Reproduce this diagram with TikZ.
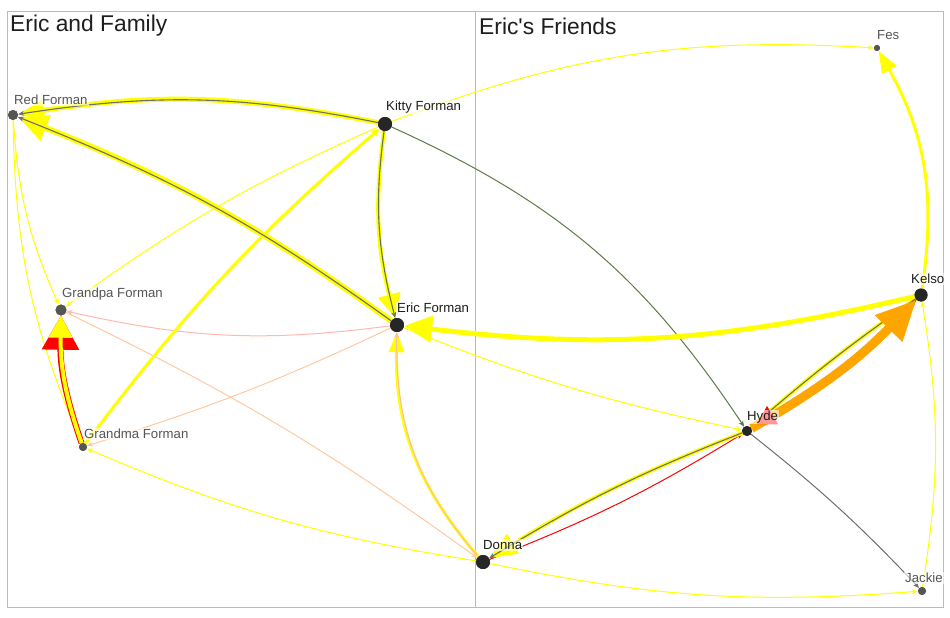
\documentclass[tikz,border=0pt]{standalone}
\usepackage{fontspec}
\setmainfont{Liberation Sans}
\newfontfamily\ttlfont{Liberation Sans}
\usetikzlibrary{arrows.meta}
\definecolor{yel}{HTML}{FFFF00}
\definecolor{gry}{HTML}{6E6E6E}
\definecolor{olv}{HTML}{5E7A45}
\definecolor{pnk}{HTML}{FFB8B0}
\definecolor{pch}{HTML}{FFC8A0}
\definecolor{org}{HTML}{FFA500}
\definecolor{frm}{HTML}{BBBBBB}
\definecolor{dotd}{HTML}{262626}
\definecolor{dotg}{HTML}{555555}
\definecolor{txd}{HTML}{1E1E1E}
\definecolor{txg}{HTML}{555555}
\begin{document}
\begin{tikzpicture}[x=1pt,y=-1pt,
  dot/.style={circle,inner sep=0pt,draw=none},
  labd/.style={anchor=west,font=\fontsize{13.2}{15}\selectfont,inner sep=1pt,fill=white,fill opacity=0.6,text opacity=1,text=txd},
  labg/.style={labd,text=txg},
  ttl/.style={anchor=west,font=\ttlfont\fontsize{22.8}{26}\selectfont,text=txd,inner sep=0pt},
  thinyel/.style={draw=yel,line width=1pt,-{Stealth[length=6pt,width=5pt]}},
  thinc/.style={line width=1pt,-{Stealth[length=6pt,width=5pt]}},
  fat/.style={draw=yel,line width=#1},
  ov/.style={draw=gry,line width=1.1pt,-{Stealth[length=6pt,width=5pt]}}]
\useasboundingbox (0,0) rectangle (950,618);
% frames
\draw[frm,line width=0.8pt] (7.5,11.5) rectangle (943.5,607.5);
\draw[frm,line width=0.8pt] (475,11.5) -- (475,607.5);
\node[ttl] (t1) at (10,26) {Eric and Family};
\node[ttl] (t2) at (479,26) {Eric's Friends};
% nodes
\node[dot,minimum size=10pt,fill=dotg] (red) at (13,115) {};
\node[dot,minimum size=14pt,fill=dotd] (kitty) at (385,124) {};
\node[dot,minimum size=14pt,fill=dotd] (eric) at (397,325) {};
\node[dot,minimum size=11pt,fill=dotg] (gpa) at (61,310) {};
\node[dot,minimum size=8pt,fill=dotg] (gma) at (83,447) {};
\node[dot,minimum size=14pt,fill=dotd] (donna) at (483,562) {};
\node[dot,minimum size=10pt,fill=dotd] (hyde) at (747,431) {};
\node[dot,minimum size=13pt,fill=dotd] (kelso) at (921,295) {};
\node[dot,minimum size=6pt,fill=dotg] (fes) at (877,48) {};
\node[dot,minimum size=8pt,fill=dotg] (jackie) at (922,591) {};
% thin edges
\draw[thinyel] (kitty) to[bend left=12] (fes);
\draw[thinyel] (kitty) to[bend right=6] (gpa);
\draw[thinyel] (red) to[bend right=10] (gpa);
\draw[thinyel] (red) to[bend right=11] (gma);
\draw[thinc,draw=pnk] (eric) to[bend left=10] (gpa);
\draw[thinc,draw=pch] (eric) to[bend left=4] (gma);
\draw[thinc,draw=pch] (gpa) to[bend left=5] (donna);
\draw[thinyel] (donna) to[bend left=7] (gma);
\draw[thinc,draw=olv] (kitty) to[bend left=16] (hyde);
\draw[thinc,draw=gry] (hyde) to[bend left=4] (jackie);
\draw[thinyel] (eric) to[bend right=5] (hyde);
\draw[thinyel] (donna) to[bend right=8] (jackie);
\draw[thinyel] (jackie) to[bend right=9] (kelso);
% thick edges
\draw[fat=3pt,-{Triangle[length=8pt,width=7pt]}] (gma) to[bend left=6] (kitty);
\draw[fat=5pt,-{Triangle[length=26pt,width=20pt]}] (kitty) to[bend right=10] (red);
\draw[ov] (kitty) to[bend right=10] (red);
\draw[fat=6pt,-{Triangle[length=30pt,width=26pt]}] (eric) to[bend right=7] (red);
\draw[ov] (eric) to[bend right=7] (red);
\draw[fat=4pt,-{Triangle[length=24pt,width=22pt]}] (kitty) to[bend right=11] (eric);
\draw[ov,draw=olv!70!gry] (kitty) to[bend right=11] (eric);
\draw[fat=5pt,-{Triangle[length=28pt,width=26pt]}] (kelso) to[bend left=10] (eric);
\draw[fat=3pt,-{Triangle[length=20pt,width=15pt]}] (donna) to[bend left=21] (eric);
\draw[thinc,draw=pnk] (donna) to[bend left=21] (eric);
\draw[fat=3pt,-{Triangle[length=22pt,width=16pt]}] (kelso) to[bend right=19] (fes);
\draw[line width=6pt,draw=red,-{Triangle[length=34pt,width=36pt]}] (gma) to[bend left=10] (gpa);
\draw[fat=4pt,-{Triangle[length=22pt,width=23pt]}] (gma) to[bend left=10] (gpa);
% Hyde - Donna
\draw[thinc,draw=red] (donna) to[bend right=5] (hyde);
\draw[fat=4pt,-{Triangle[length=28pt,width=22pt]}] (hyde) to[bend right=5] (donna);
\draw[ov] (hyde) to[bend right=5] (donna);
% Hyde - Kelso
\draw[fat=4pt] (kelso) to[bend right=3] (hyde);
\draw[ov] (kelso) to[bend right=3] (hyde);
\draw[thinc,draw=red] (hyde) to[bend right=8] (kelso);
\draw[line width=9pt,draw=org,-{Triangle[length=40pt,width=36pt]}] (hyde) to[bend right=8] (kelso);
\fill[red] (767,406) -- (778,424) -- (757,424) -- cycle;
% labels
\node[labg] (redL) at (13,100) {Red Forman};
\node[labd] (kittyL) at (385,107) {Kitty Forman};
\node[labd] (ericL) at (396,308) {Eric Forman};
\node[labg] (gpaL) at (61,294) {Grandpa Forman};
\node[labg] (gmaL) at (83,434) {Grandma Forman};
\node[labd] (donnaL) at (482,545) {Donna};
\node[labd] (hydeL) at (746,417) {Hyde};
\node[labd] (kelsoL) at (910,279) {Kelso};
\node[labg] (fesL) at (876,35) {Fes};
\node[labg] (jackieL) at (904,578) {Jackie};
% redraw node dots on top
\fill[dotd] (kitty) circle (7pt);
\fill[dotd] (eric) circle (7pt);
\fill[dotd] (donna) circle (7pt);
\fill[dotd] (hyde) circle (5pt);
\fill[dotd] (kelso) circle (6.5pt);
\fill[dotg] (red) circle (5pt);
\fill[dotg] (gpa) circle (5.5pt);
\fill[dotg] (gma) circle (4pt);
\fill[dotg] (fes) circle (3pt);
\fill[dotg] (jackie) circle (4pt);
\end{tikzpicture}
\end{document}
